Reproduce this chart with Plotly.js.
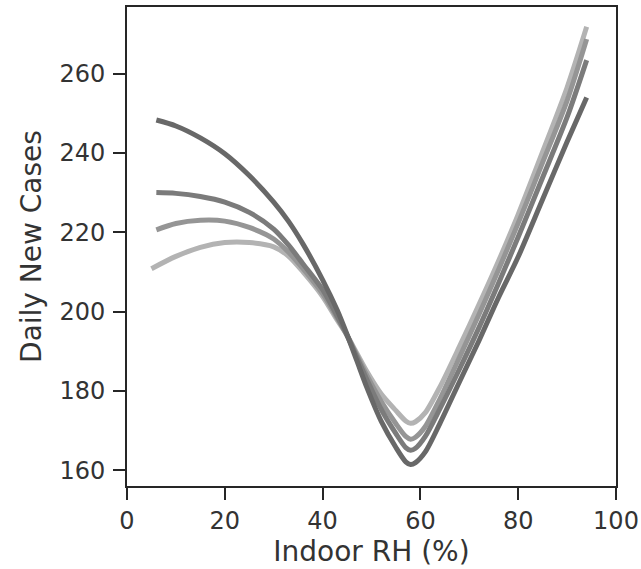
<!DOCTYPE html>
<html>
<head>
<meta charset="utf-8">
<script src="https://cdn.plot.ly/plotly-3.0.1.min.js"></script>
<style>html,body{margin:0;padding:0;background:#fff;}#chart{width:641px;height:569px;}</style>
</head>
<body>
<div id="chart"></div>
<script>
// Indoor relative humidity (%) sample points
const rhMain = [6, 10, 15, 20, 25, 30, 33, 36, 40, 43, 45, 47, 49, 52, 55, 57, 58, 59, 61, 64, 68, 72, 76, 80, 85, 90, 94];
const rhLight = [5, 10, 15, 20, 25, 30, 33, 36, 40, 43, 45, 47, 49, 52, 55, 57, 58, 59, 61, 64, 68, 72, 76, 80, 85, 90, 94];

// Daily new cases, four curves (dark -> light)
const casesDark = [248.3, 246.8, 243.8, 239.8, 234.3, 227.6, 222.8, 217.0, 208.0, 200.3, 194.2, 187.6, 181.0, 172.3, 165.7, 162.1, 161.4, 161.9, 164.6, 171.8, 182.3, 192.7, 203.6, 213.8, 228.3, 242.8, 254.0];
const casesMid1 = [230.0, 229.8, 229.0, 227.6, 225.0, 220.8, 216.8, 212.0, 205.5, 198.8, 194.0, 188.5, 183.0, 175.3, 169.2, 165.7, 165.0, 165.5, 168.5, 175.5, 185.5, 196.0, 207.2, 218.8, 233.8, 249.0, 263.4];
const casesMid2 = [220.6, 222.2, 223.0, 222.8, 221.2, 218.3, 215.0, 210.8, 204.5, 198.3, 194.0, 189.0, 184.0, 177.3, 171.7, 168.5, 167.8, 168.3, 171.0, 178.0, 188.5, 199.3, 210.6, 222.3, 237.6, 253.2, 268.7];
const casesLight = [210.8, 213.9, 216.2, 217.4, 217.4, 216.3, 214.0, 210.0, 203.8, 197.8, 194.0, 189.5, 185.0, 179.2, 175.0, 172.4, 171.8, 172.2, 174.5, 181.0, 191.2, 201.8, 212.8, 224.5, 240.3, 256.5, 271.8];

const xTicks = [0, 20, 40, 60, 80, 100];
const yTicks = [160, 180, 200, 220, 240, 260];

const series = [
  {x: rhLight, y: casesLight, color: '#b3b3b3'},
  {x: rhMain, y: casesMid2, color: '#959595'},
  {x: rhMain, y: casesMid1, color: '#7b7b7b'},
  {x: rhMain, y: casesDark, color: '#686868'}
];

const traces = series.map(s => ({
  x: s.x, y: s.y, type: 'scatter', mode: 'lines',
  line: {color: s.color, width: 5, shape: 'spline', smoothing: 0.8},
  hoverinfo: 'skip', showlegend: false
}));

const axisCommon = {
  showgrid: false, zeroline: false,
  showline: true, mirror: true, linecolor: '#262626', linewidth: 2,
  ticks: 'outside', ticklen: 12, tickwidth: 2, tickcolor: '#262626',
  tickfont: {family: 'DejaVu Sans', size: 24, color: '#333333'}
};

const layout = {
  width: 641, height: 569,
  margin: {l: 127, r: 25, t: 7, b: 83},
  paper_bgcolor: '#ffffff', plot_bgcolor: '#ffffff',
  font: {family: 'DejaVu Sans', color: '#333333'},
  xaxis: Object.assign({}, axisCommon, {
    range: [0, 100], tickvals: xTicks, ticktext: xTicks.map(String),
    title: {text: 'Indoor RH (%)', font: {family: 'DejaVu Sans', size: 28, color: '#333333'}, standoff: 2}
  }),
  yaxis: Object.assign({}, axisCommon, {
    range: [156, 276.8], tickvals: yTicks, ticktext: yTicks.map(String),
    ticklabelstandoff: 3,
    title: {text: 'Daily New Cases', font: {family: 'DejaVu Sans', size: 28, color: '#333333'}, standoff: 10}
  })
};

Plotly.newPlot('chart', traces, layout, {staticPlot: true, displayModeBar: false});
</script>
</body>
</html>
